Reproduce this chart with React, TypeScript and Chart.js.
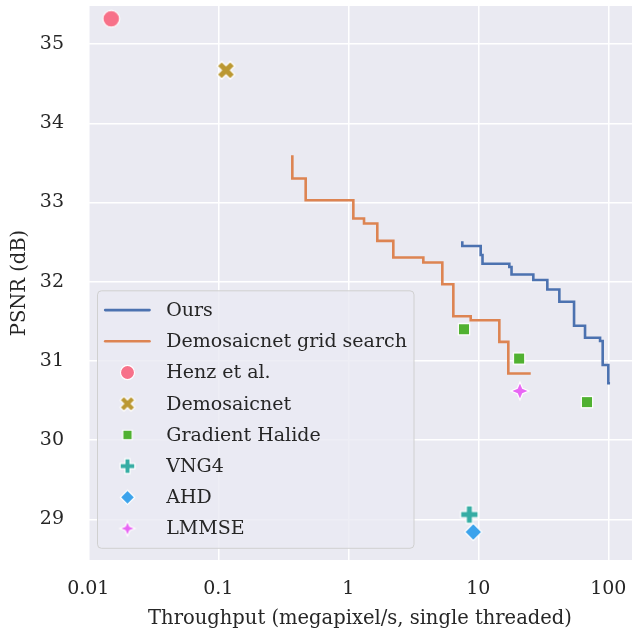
import { useEffect, useRef } from "react";
import { Chart, registerables } from "chart.js";

Chart.register(...registerables);

const FONT = "'DejaVu Serif', serif";
const TEXT = "#262626";

// Axis ticks
const xTickValues = [0.01, 0.1, 1, 10, 100];
const xTickLabels = ["0.01", "0.1", "1", "10", "100"];
const yTickValues = [29, 30, 31, 32, 33, 34, 35];
const yTickLabels = ["29", "30", "31", "32", "33", "34", "35"];

// Pareto front of our method (throughput in megapixel/s, PSNR in dB)
const oursThroughput = [7.53, 10.43, 10.77, 17.32, 18.01, 26.49, 33.95, 42.0, 54.5, 66.2, 86.4, 90.5, 100, 103.1];
const oursPsnr = [32.51, 32.451, 32.337, 32.227, 32.186, 32.091, 32.021, 31.902, 31.747, 31.444, 31.293, 31.251, 30.948, 30.717];

// Demosaicnet grid search front
const gridThroughput = [0.371, 0.47, 1.093, 1.321, 1.671, 2.219, 3.776, 5.286, 6.424, 8.74, 14.51, 17.01, 25.3];
const gridPsnr = [33.597, 33.303, 33.029, 32.798, 32.735, 32.515, 32.306, 32.242, 31.968, 31.564, 31.514, 31.24, 30.841];

// Baselines
const henzThroughput = [0.015];
const henzPsnr = [35.32];
const demosaicnetThroughput = [0.1146];
const demosaicnetPsnr = [34.67];
const halideThroughput = [7.76, 20.6, 68.5];
const halidePsnr = [31.4, 31.03, 30.48];
const vng4Throughput = [8.53];
const vng4Psnr = [29.06];
const ahdThroughput = [9.15];
const ahdPsnr = [28.84];
const lmmseThroughput = [20.9];
const lmmsePsnr = [30.62];

type Shape = "circle" | "x" | "square" | "plus" | "diamond" | "star";

function makeMarker(shape: Shape, color: string, r: number): HTMLCanvasElement {
  const size = Math.ceil(2 * r + 4);
  const c = document.createElement("canvas");
  c.width = size;
  c.height = size;
  const ctx = c.getContext("2d")!;
  ctx.translate(size / 2, size / 2);
  ctx.beginPath();
  if (shape === "circle") {
    ctx.arc(0, 0, r, 0, Math.PI * 2);
  } else if (shape === "square") {
    const h = r / Math.SQRT2;
    ctx.rect(-h, -h, 2 * h, 2 * h);
  } else if (shape === "diamond") {
    ctx.moveTo(0, -r);
    ctx.lineTo(r, 0);
    ctx.lineTo(0, r);
    ctx.lineTo(-r, 0);
    ctx.closePath();
  } else if (shape === "plus" || shape === "x") {
    if (shape === "x") ctx.rotate(Math.PI / 4);
    const w = r * 0.35;
    const pts = [
      [-w, -r], [w, -r], [w, -w], [r, -w], [r, w], [w, w],
      [w, r], [-w, r], [-w, w], [-r, w], [-r, -w], [-w, -w],
    ];
    pts.forEach(([px, py], i) => (i === 0 ? ctx.moveTo(px, py) : ctx.lineTo(px, py)));
    ctx.closePath();
  } else {
    const ri = r * 0.42;
    for (let i = 0; i < 8; i++) {
      const a = -Math.PI / 2 + (i * Math.PI) / 4;
      const rr = i % 2 === 0 ? r : ri;
      const px = Math.cos(a) * rr;
      const py = Math.sin(a) * rr;
      if (i === 0) ctx.moveTo(px, py);
      else ctx.lineTo(px, py);
    }
    ctx.closePath();
  }
  ctx.fillStyle = color;
  ctx.fill();
  ctx.lineWidth = 1.2;
  ctx.strokeStyle = "#ffffff";
  ctx.lineJoin = "miter";
  ctx.stroke();
  return c;
}

type MarkerSpec = { shape: Shape; color: string; r: number };

const markerSpecs: Record<string, MarkerSpec> = {
  "Henz et al.": { shape: "circle", color: "#f77189", r: 8.4 },
  Demosaicnet: { shape: "x", color: "#bb9832", r: 9.2 },
  "Gradient Halide": { shape: "square", color: "#50b131", r: 8.0 },
  VNG4: { shape: "plus", color: "#36ada4", r: 8.8 },
  AHD: { shape: "diamond", color: "#3ba3ec", r: 8.6 },
  LMMSE: { shape: "star", color: "#e866f4", r: 9.0 },
};

const zip = (xs: number[], ys: number[]) => xs.map((x, i) => ({ x, y: ys[i] }));

const legendPlugin = {
  id: "cornerLegend",
  afterDraw(chart: any) {
    const { ctx, chartArea } = chart;
    const left = chartArea.left + 9.5;
    const bottom = chartArea.bottom - 11.7;
    const width = 316.5;
    const height = 257.5;
    const top = bottom - height;
    ctx.save();
    ctx.beginPath();
    ctx.roundRect(left, top, width, height, 4);
    ctx.fillStyle = "rgba(234,234,242,0.8)";
    ctx.fill();
    ctx.lineWidth = 1;
    ctx.strokeStyle = "#d0d0d0";
    ctx.stroke();

    ctx.font = `19px ${FONT}`;
    ctx.fillStyle = TEXT;
    ctx.textBaseline = "middle";
    ctx.textAlign = "left";
    chart.data.datasets.forEach((ds: any, i: number) => {
      const y = top + 19.3 + i * 31.2;
      if (ds.showLine) {
        ctx.beginPath();
        ctx.moveTo(left + 7.7, y);
        ctx.lineTo(left + 52, y);
        ctx.lineWidth = ds.borderWidth;
        ctx.strokeStyle = ds.borderColor;
        ctx.lineCap = "round";
        ctx.stroke();
      } else {
        const spec = markerSpecs[ds.label];
        const img = makeMarker(spec.shape, spec.color, spec.r * 0.84);
        ctx.drawImage(img, left + 30 - img.width / 2, y - img.height / 2);
      }
      ctx.fillStyle = TEXT;
      ctx.fillText(ds.label, left + 68.7, y + 1);
    });
    ctx.restore();
  },
};

const backgroundPlugin = {
  id: "plotBackground",
  beforeDraw(chart: any) {
    const { ctx, chartArea, width, height } = chart;
    ctx.save();
    ctx.fillStyle = "#ffffff";
    ctx.fillRect(0, 0, width, height);
    ctx.fillStyle = "#eaeaf2";
    ctx.fillRect(chartArea.left, chartArea.top, chartArea.right - chartArea.left, chartArea.bottom - chartArea.top);
    ctx.restore();
  },
};

const noEdgePadding = (s: any) => {
  s.paddingTop = 0;
  s.paddingBottom = 0;
  s.paddingLeft = 0;
  s.paddingRight = 0;
};

export default function App() {
  const canvasRef = useRef<HTMLCanvasElement | null>(null);

  useEffect(() => {
    if (!canvasRef.current) return;

    const lineSet = (label: string, xs: number[], ys: number[], color: string) => ({
      label,
      data: zip(xs, ys),
      showLine: true,
      stepped: "after" as const,
      borderColor: color,
      backgroundColor: color,
      borderWidth: 2.6,
      pointRadius: 0,
      fill: false,
    });

    const markerSet = (label: string, xs: number[], ys: number[]) => {
      const spec = markerSpecs[label];
      return {
        label,
        data: zip(xs, ys),
        showLine: false,
        pointStyle: makeMarker(spec.shape, spec.color, spec.r),
        pointRadius: 8,
        backgroundColor: spec.color,
        borderColor: "#ffffff",
      };
    };

    const chart = new Chart(canvasRef.current, {
      type: "scatter",
      data: {
        datasets: [
          lineSet("Ours", oursThroughput, oursPsnr, "#4c72b0"),
          lineSet("Demosaicnet grid search", gridThroughput, gridPsnr, "#dd8452"),
          markerSet("Henz et al.", henzThroughput, henzPsnr),
          markerSet("Demosaicnet", demosaicnetThroughput, demosaicnetPsnr),
          markerSet("Gradient Halide", halideThroughput, halidePsnr),
          markerSet("VNG4", vng4Throughput, vng4Psnr),
          markerSet("AHD", ahdThroughput, ahdPsnr),
          markerSet("LMMSE", lmmseThroughput, lmmsePsnr),
        ] as any,
      },
      options: {
        animation: false,
        responsive: false,
        maintainAspectRatio: false,
        layout: { autoPadding: false, padding: { top: 6, left: 0, right: 0, bottom: 0 } },
        plugins: { legend: { display: false }, tooltip: { enabled: false } },
        scales: {
          x: {
            type: "logarithmic",
            min: 0.009947,
            max: 152.1,
            border: { display: false },
            grid: { color: "#ffffff", lineWidth: 1.5, drawTicks: false },
            ticks: {
              padding: 18,
              color: TEXT,
              font: { family: FONT, size: 19 },
              autoSkip: false,
              maxRotation: 0,
              callback: (_v: any, i: number) => xTickLabels[i],
            },
            afterBuildTicks: (s: any) => {
              s.ticks = xTickValues.map((value) => ({ value }));
            },
            afterFit: (s: any) => {
              s.height = 72;
              noEdgePadding(s);
            },
            title: {
              display: true,
              text: "Throughput (megapixel/s, single threaded)",
              color: TEXT,
              font: { family: FONT, size: 19.5 },
              padding: { top: 0, bottom: 1.5 },
            },
          },
          y: {
            type: "linear",
            min: 28.486,
            max: 35.481,
            border: { display: false },
            grid: { color: "#ffffff", lineWidth: 1.5, drawTicks: false },
            ticks: {
              padding: 24,
              color: TEXT,
              font: { family: FONT, size: 19 },
              callback: (_v: any, i: number) => yTickLabels[i],
            },
            afterBuildTicks: (s: any) => {
              s.ticks = yTickValues.map((value) => ({ value }));
            },
            afterFit: (s: any) => {
              s.width = 88;
              noEdgePadding(s);
            },
            title: {
              display: true,
              text: "PSNR (dB)",
              color: TEXT,
              font: { family: FONT, size: 19.5 },
              padding: { top: 8, bottom: 0 },
            },
          },
        },
      } as any,
      plugins: [backgroundPlugin, legendPlugin],
    });

    return () => chart.destroy();
  }, []);

  return (
    <div style={{ position: "absolute", left: 0, top: 0, width: 632, height: 632 }}>
      <canvas ref={canvasRef} width={632} height={632} style={{ display: "block" }} />
    </div>
  );
}
